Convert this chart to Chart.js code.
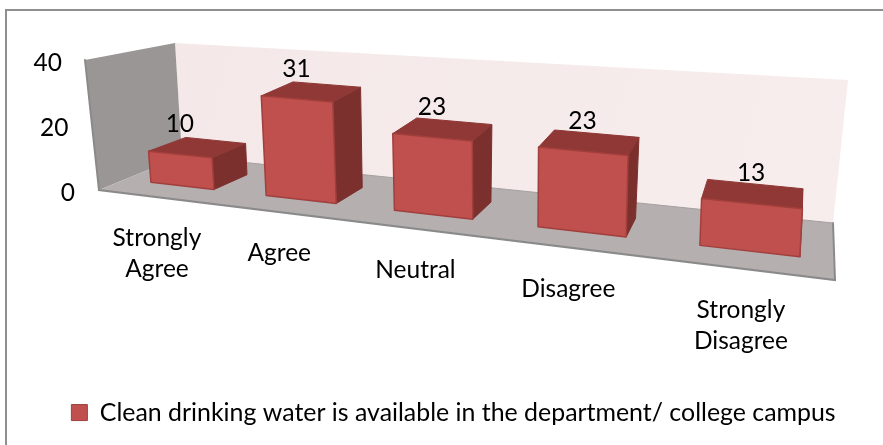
<!DOCTYPE html>
<html>
<head>
<meta charset="utf-8">
<script src="https://cdn.jsdelivr.net/npm/chart.js@4/dist/chart.umd.min.js"></script>
<style>html,body{margin:0;padding:0;background:#fff}canvas{display:block}</style>
</head>
<body>
<canvas id="c" width="883" height="445"></canvas>
<script>
const categories = [["Strongly","Agree"],["Agree"],["Neutral"],["Disagree"],["Strongly","Disagree"]];
const values = [10,31,23,23,13];
const seriesName = "Clean drinking water is available in the department/ college campus";
const FONT = "Lato, Carlito, sans-serif";

// Projection of the chart plane to the tilted 3D view
const FRONT = {bl:[127,179.5],br:[841,261.6],tl:[117,56],tr:[850,112]};
const BACK  = {bl:[165,165.5],br:[838,241],tl:[157,44],tr:[850,92]};
function sOf(u){ const x=(127.1+503.2*u)/(1-0.2507*u); return (x-127)/(841-127); }
function bil(q,s,v){
  const bx=q.bl[0]+(q.br[0]-q.bl[0])*s, by=q.bl[1]+(q.br[1]-q.bl[1])*s;
  const tx=q.tl[0]+(q.tr[0]-q.tl[0])*s, ty=q.tl[1]+(q.tr[1]-q.tl[1])*s;
  return [bx+(tx-bx)*v, by+(ty-by)*v];
}
function project(chart,px,py,d){
  const a=chart.chartArea;
  const s=sOf((px-a.left)/(a.right-a.left)), v=(a.bottom-py)/(a.bottom-a.top);
  const f=bil(FRONT,s,v), b=bil(BACK,s,v);
  return [f[0]+(b[0]-f[0])*d, f[1]+(b[1]-f[1])*d];
}
function poly(ctx,pts,fill,stroke,lw){
  ctx.beginPath();
  pts.forEach((p,i)=>i?ctx.lineTo(p[0],p[1]):ctx.moveTo(p[0],p[1]));
  ctx.closePath();
  if(fill){ctx.fillStyle=fill;ctx.fill();}
  if(stroke){ctx.strokeStyle=stroke;ctx.lineWidth=lw||1;ctx.lineJoin='round';ctx.stroke();}
}

class Bar3D extends Chart.BarController {
  draw(){
    const chart=this.chart, ctx=chart.ctx;
    const ds=this.getDataset();
    this.getMeta().data.forEach(el=>{
      const p=el.getProps(['x','y','base','width'],true);
      const L=p.x-p.width/2, R=p.x+p.width/2;
      const P=(x,y,d)=>project(chart,x,y,d);
      const fbl=P(L,p.base,0), fbr=P(R,p.base,0), ftl=P(L,p.y,0), ftr=P(R,p.y,0);
      const bbr=P(R,p.base,1), btl=P(L,p.y,1), btr=P(R,p.y,1);
      poly(ctx,[fbr,bbr,btr,ftr],ds.sideColor,ds.sideColor,1);
      poly(ctx,[ftl,ftr,btr,btl],ds.topColor,ds.topColor,1);
      poly(ctx,[ftl,ftr,fbr,fbl],ds.backgroundColor,ds.borderColor,1.5);
    });
  }
}
Bar3D.id='bar3d';
Bar3D.defaults=Chart.BarController.defaults;
Bar3D.overrides=Chart.BarController.overrides;
Chart.register(Bar3D);

const scene={
  id:'scene',
  beforeDraw(chart){
    const ctx=chart.ctx;
    ctx.save();
    ctx.fillStyle='#fff';ctx.fillRect(0,0,883,445);
    // outer frame: only the left and top edges fall inside the picture
    ctx.strokeStyle='#8f8f8f';ctx.lineWidth=2;
    ctx.beginPath();ctx.moveTo(6,445);ctx.lineTo(6,10);ctx.lineTo(883,10);ctx.stroke();
    // back wall
    const gb=ctx.createLinearGradient(175,43,848,223);
    gb.addColorStop(0,'#f4e8e8');gb.addColorStop(1,'#f8eded');
    poly(ctx,[[175,43],[848,80],[833,223],[182,156]],gb);
    // left wall
    poly(ctx,[[85,60],[175,43],[182,156],[99,190]],'#9b9696');
    // floor
    poly(ctx,[[99,190],[182,156],[833,223],[835,280]],'#b5afb0');
    ctx.lineCap='round';
    ctx.strokeStyle='#8a8a8a';ctx.lineWidth=2;
    ctx.beginPath();ctx.moveTo(85,60);ctx.lineTo(99,190);ctx.lineTo(835,280);ctx.lineTo(833,223);ctx.stroke();
    ctx.strokeStyle='#a5a0a0';ctx.lineWidth=1;
    ctx.beginPath();ctx.moveTo(182,156);ctx.lineTo(833,223);ctx.stroke();
    ctx.restore();
  },
  afterDatasetsDraw(chart){
    const ctx=chart.ctx, xs=chart.scales.x, ys=chart.scales.y;
    const el=chart.getDatasetMeta(0).data;
    ctx.save();
    ctx.fillStyle='#000';
    ctx.font='24.5px '+FONT;
    ctx.textBaseline='middle';
    // value axis labels follow the slanted front edge of the left wall
    ctx.textAlign='right';
    ys.ticks.forEach(t=>{
      const v=t.value/ys.max;
      ctx.fillText(String(t.value),75-13*v,193-130*v);
    });
    // data labels
    ctx.textAlign='center';
    values.forEach((val,i)=>{
      const e=el[i];
      const a=project(chart,e.x,ys.getPixelForValue(val),0);
      ctx.fillText(String(val),a[0],a[1]-30);
    });
    // category labels, stepping down along the floor
    categories.forEach((lines,i)=>{
      const a=project(chart,xs.getPixelForValue(i),ys.getPixelForValue(0),0);
      const x=a[0]-30.5+0.03*a[0], y=a[1]+49.8+0.0123*a[0];
      lines.forEach((s,k)=>ctx.fillText(s,x,y+k*31.5));
    });
    ctx.restore();
  }
};

new Chart(document.getElementById('c'),{
  type:'bar3d',
  plugins:[scene],
  data:{
    labels:categories,
    datasets:[{
      label:seriesName,
      data:values,
      backgroundColor:'#c0504d',
      borderColor:'#a13f3c',
      borderWidth:1,
      sideColor:'#7c302e',
      topColor:'#8f3836',
      barPercentage:0.56,
      categoryPercentage:1
    }]
  },
  options:{
    responsive:false,
    animation:false,
    layout:{padding:{left:24,right:0,top:20,bottom:10}},
    scales:{
      x:{type:'category',display:false},
      y:{type:'linear',display:false,min:0,max:40,ticks:{stepSize:20}}
    },
    plugins:{
      tooltip:{enabled:false},
      legend:{
        position:'bottom',
        labels:{color:'#000',font:{family:FONT,size:24.9},boxWidth:16,boxHeight:16}
      }
    }
  }
});
</script>
</body>
</html>
